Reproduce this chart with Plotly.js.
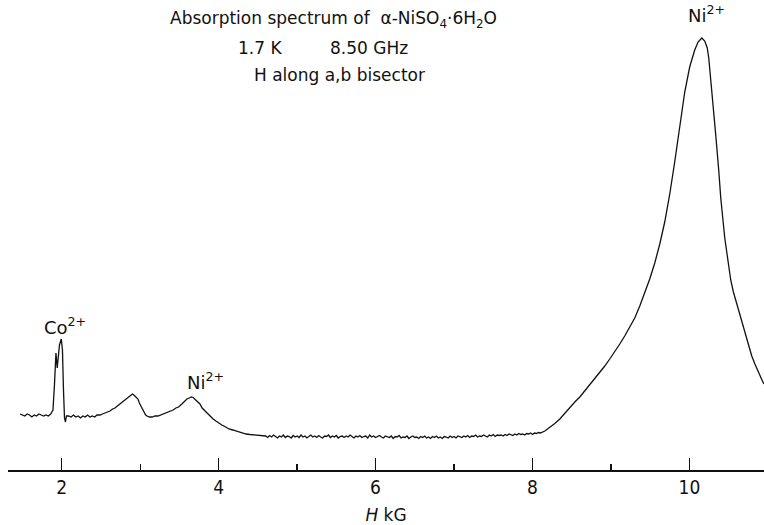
<!DOCTYPE html>
<html>
<head>
<meta charset="utf-8">
<script src="https://cdn.plot.ly/plotly-3.0.1.min.js"></script>
<style>html,body{margin:0;padding:0;background:#fff;}#chart{width:764px;height:525px;}</style>
</head>
<body>
<div id="chart"></div>
<script>
// Magnetic field H (kG)
const fieldKG = [
1.47,1.50,1.53,1.56,1.59,1.62,1.65,1.68,1.71,1.74,1.77,1.80,1.83,1.86,
1.889,1.908,1.927,1.943,1.953,1.972,1.995,2.010,2.023,2.036,2.048,2.061,
2.09,2.12,2.15,2.18,2.21,2.24,2.27,2.30,2.33,2.36,2.39,2.42,2.45,2.49,
2.52,2.55,2.58,2.615,2.65,2.679,2.71,2.743,2.775,2.806,2.83,2.857,2.88,2.902,2.92,2.934,2.95,2.972,2.99,3.010,3.03,3.049,3.07,3.087,
3.12,3.15,3.19,3.227,3.26,3.303,3.34,3.38,3.42,3.456,3.49,3.532,3.56,3.596,3.625,3.653,3.675,3.698,3.73,3.762,3.79,3.825,3.86,3.889,
3.93,3.965,4.00,4.042,4.09,4.131,4.18,4.22,4.26,4.309,4.35,4.40,4.45,4.50,4.55,
4.600,4.625,4.650,4.675,4.700,4.725,4.750,4.775,4.800,4.825,4.850,4.875,4.900,4.925,4.950,4.975,5.000,5.025,5.050,5.075,
5.100,5.125,5.150,5.175,5.200,5.225,5.250,5.275,5.300,5.325,5.350,5.375,5.400,5.425,5.450,5.475,5.500,5.525,5.550,5.575,
5.600,5.625,5.650,5.675,5.700,5.725,5.750,5.775,5.800,5.825,5.850,5.875,5.900,5.925,5.950,5.975,6.000,6.025,6.050,6.075,
6.100,6.125,6.150,6.175,6.200,6.225,6.250,6.275,6.300,6.325,6.350,6.375,6.400,6.425,6.450,6.475,6.500,6.525,6.550,6.575,
6.600,6.625,6.650,6.675,6.700,6.725,6.750,6.775,6.800,6.825,6.850,6.875,6.900,6.925,6.950,6.975,7.000,7.025,7.050,7.075,
7.100,7.125,7.150,7.175,7.200,7.225,7.250,7.275,7.300,7.325,7.350,7.375,7.400,7.425,7.450,7.475,7.500,7.525,7.550,7.575,
7.600,7.625,7.650,7.675,7.700,7.725,7.750,7.775,7.800,7.825,7.850,7.875,7.900,7.925,7.950,7.975,8.000,8.025,8.050,8.075,
8.100,
8.157,8.22,8.284,8.348,8.412,8.475,8.539,8.603,8.666,8.730,8.794,8.857,8.921,8.984,9.048,9.112,9.175,9.239,9.303,9.367,9.430,9.494,9.558,
9.622,9.685,9.749,9.812,9.876,9.940,10.003,10.067,10.11,10.157,
10.195,10.227,10.246,10.271,10.297,10.335,10.373,10.399,10.450,10.49,10.526,10.56,10.603,10.635,10.667,10.70,10.73,10.76,10.794,10.834,10.87,10.898,10.93,10.949
];
// Absorption signal (arbitrary units)
const absorption = [
56,55,54,56,55,53,55,54,56,55,54,55,54,56,
60,85,117,102,110,125,131,120,80,52,48,54,
54,53,55,53,54,52,54,53,55,53,54,53,55,55,
56,57,58,59,61,62,64,66,68,70,72,73.5,75,76,75,74,72,71,67,64,61,58,55,54,
53,53,54,54,55,56,57,59,60,62,63,66,68,71,72,73,72.5,71,69,66,62,59,56,54,
51,49,47,45,43,41,40,39,38,37,36,35.5,35,34.5,34,
34,32.5,34.5,33,35,33.5,32,34,33,35,32.5,34,33.5,32,34.5,33,34,32.5,35,33,
34,32,33.5,35,33,34,32.5,34.5,33,32,34,33.5,35,32.5,34,33,34.5,32,33.5,34,
32.5,34,33,35,33.5,32,34,33,34.5,32.5,33.5,34,32,35,33,34,32.5,33.5,34.5,33,
32,34,33,32.5,34,31.5,33.5,33,34.5,32,33,32.5,34,31.5,33,34,32.5,33,31.5,33.5,
32.5,34,32,33,31.5,33.5,32.5,34,32,33,31.5,33.5,33,32,34,32.5,33.5,32,34,33,
32.5,34,33,34.5,32.5,34,33.5,35,33,34,33.5,35,34,33,35,34,35.5,33.5,35,34.5,
35,34,35.5,34.5,36,35,34.5,36,35,36.5,35.5,36,35,36.5,36,37,35.5,37,36.5,37.5,
37,
39,42.5,46.5,51,57,62,68,73,79,85,91,97,104,111,118,126,134,143,152,164,177,191,207,
226,248,276,308,345,378,403,420,428,432,
429,422,412,392,370,335,300,272,232,207,190,178,166,157,148,139,130,122,114,106,99,94,89,86
];
const tickVals = [2,4,6,8,10];
const tickText = ['2','4','6','8','10'];

const FONT = 'DejaVu Sans, Liberation Sans, sans-serif';
const TICKFONT = 'Liberation Sans Narrow, DejaVu Sans Condensed, DejaVu Sans, sans-serif';
// paper helpers: plot area spans px 8..764 horizontally, 0..470 vertically
const px = v => (v - 8) / 756;
const py = v => (470 - v) / 470;

const trace = {
  x: fieldKG, y: absorption, type: 'scatter', mode: 'lines',
  line: {color: '#111', width: 1.3}, hoverinfo: 'skip'
};

const ann = (text, x, y, xa, size) => ({
  text, x: px(x), y: py(y), xref: 'paper', yref: 'paper',
  xanchor: xa || 'center', yanchor: 'middle', showarrow: false,
  font: {family: FONT, size: size || 17, color: '#111'}
});

const layout = {
  width: 764, height: 525,
  margin: {l: 8, r: 0, t: 0, b: 55},
  paper_bgcolor: '#fff', plot_bgcolor: '#fff',
  showlegend: false,
  xaxis: {
    range: [1.316, 10.95], showgrid: false, zeroline: false,
    showline: true, linecolor: '#111', linewidth: 1.5,
    ticks: 'inside', ticklen: 12, tickwidth: 1.3, tickcolor: '#111',
    tickmode: 'array', tickvals: tickVals, ticktext: tickText,
    minor: {dtick: 1, tick0: 1, ticks: 'inside', ticklen: 6, tickwidth: 1.2, tickcolor: '#111'},
    tickfont: {family: TICKFONT, size: 19, color: '#111'},
    title: {text: '<i>H</i> kG', font: {family: FONT, size: 17, color: '#111'}, standoff: 12}
  },
  yaxis: {range: [0, 470], visible: false, fixedrange: true},
  annotations: [
    ann('Absorption spectrum of  α-NiSO<sub>4</sub>·6H<sub>2</sub>O', 168, 20, 'left', 17),
    ann('1.7 K', 236, 48, 'left', 17),
    ann('8.50 GHz', 328, 48, 'left', 17),
    ann('H along a,b bisector', 252, 75, 'left', 17),
    ann('Co<sup>2+</sup>', 65, 326, 'center', 18),
    ann('Ni<sup>2+</sup>', 205, 381, 'center', 18),
    ann('Ni<sup>2+</sup>', 706, 14, 'center', 18)
  ]
};

Plotly.newPlot('chart', [trace], layout, {staticPlot: true, displayModeBar: false});
</script>
</body>
</html>
